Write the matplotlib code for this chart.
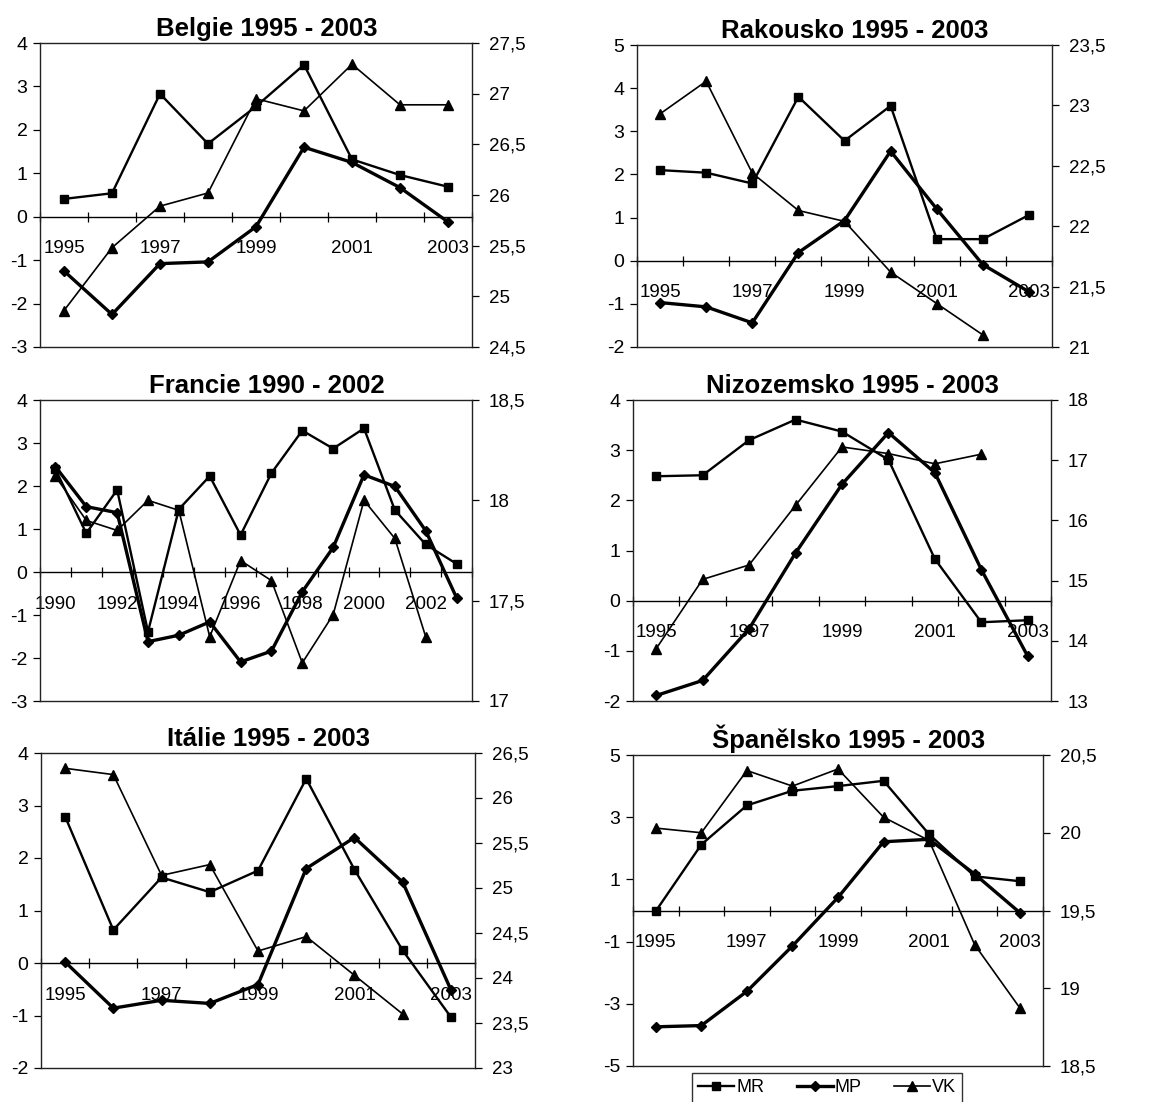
#! /usr/bin/env python3
"""MR, MP and VK for six countries, twin y axes per panel."""

import numpy as np
import matplotlib
matplotlib.use("Agg")
import matplotlib.pyplot as plt
from matplotlib.ticker import FixedLocator, FuncFormatter, MultipleLocator

plt.rcParams['font.family'] = ['Liberation Sans', 'DejaVu Sans']
plt.rcParams['axes.unicode_minus'] = False

# data (VK on the right axis)
be_years = list(range(1995, 2004))
be_mr = [0.41, 0.54, 2.83, 1.68, 2.54, 3.50, 1.32, 0.96, 0.69]
be_mp = [-1.25, -2.25, -1.08, -1.04, -0.23, 1.60, 1.25, 0.67, -0.12]
be_vk = [24.86, 25.48, 25.89, 26.02, 26.95, 26.83, 27.29, 26.89, 26.89]

at_years = list(range(1995, 2004))
at_mr = [2.10, 2.04, 1.79, 3.80, 2.78, 3.59, 0.50, 0.50, 1.06]
at_mp = [-0.97, -1.07, -1.44, 0.19, 0.93, 2.54, 1.20, -0.09, -0.72]
at_vk = [22.93, 23.20, 22.44, 22.13, 22.04, 21.62, 21.36, 21.10]

fr_years = list(range(1990, 2004))
fr_mr = [2.39, 0.90, 1.91, -1.39, 1.46, 2.23, 0.86, 2.30, 3.29, 2.87, 3.34, 1.44, 0.64, 0.19]
fr_mp = [2.45, 1.52, 1.38, -1.62, -1.47, -1.16, -2.09, -1.84, -0.46, 0.57, 2.26, 1.99, 0.96, -0.60]
fr_vk = [18.12, 17.90, 17.85, 18.00, 17.95, 17.32, 17.70, 17.60, 17.19, 17.43, 18.00, 17.81, 17.32]

nl_years = list(range(1995, 2004))
nl_mr = [2.48, 2.50, 3.20, 3.61, 3.37, 2.81, 0.83, -0.43, -0.39]
nl_mp = [-1.89, -1.59, -0.56, 0.95, 2.32, 3.35, 2.55, 0.62, -1.11]
nl_vk = [13.87, 15.02, 15.26, 16.25, 17.22, 17.11, 16.94, 17.10]

it_years = list(range(1995, 2004))
it_mr = [2.79, 0.63, 1.63, 1.35, 1.76, 3.51, 1.78, 0.24, -1.03]
it_mp = [0.02, -0.86, -0.71, -0.77, -0.41, 1.80, 2.39, 1.54, -0.51]
it_vk = [26.33, 26.26, 25.14, 25.26, 24.30, 24.46, 24.03, 23.60]

es_years = list(range(1995, 2004))
es_mr = [-0.02, 2.12, 3.38, 3.85, 4.00, 4.17, 2.45, 1.10, 0.94]
es_mp = [-3.74, -3.70, -2.60, -1.14, 0.42, 2.21, 2.29, 1.17, -0.08]
es_vk = [20.03, 20.00, 20.40, 20.30, 20.41, 20.10, 19.95, 19.28, 18.87]

panels = [
    ("Belgie 1995 - 2003", be_years, be_mr, be_mp, be_vk, (-3, 4, 1), (24.5, 27.5, 0.5)),
    ("Rakousko 1995 - 2003", at_years, at_mr, at_mp, at_vk, (-2, 5, 1), (21, 23.5, 0.5)),
    ("Francie 1990 - 2002", fr_years, fr_mr, fr_mp, fr_vk, (-3, 4, 1), (17, 18.5, 0.5)),
    ("Nizozemsko 1995 - 2003", nl_years, nl_mr, nl_mp, nl_vk, (-2, 4, 1), (13, 18, 1)),
    ("Itálie 1995 - 2003", it_years, it_mr, it_mp, it_vk, (-2, 4, 1), (23, 26.5, 0.5)),
    ("Španělsko 1995 - 2003", es_years, es_mr, es_mp, es_vk, (-5, 5, 2), (18.5, 20.5, 0.5)),
]

# plot area boxes in pixels: left, top, right, bottom
boxes = [
    (40, 43, 472, 347),
    (637, 45, 1052, 347),
    (40, 400, 472, 701),
    (633, 400, 1051, 701),
    (41, 753, 475, 1068),
    (633, 755, 1043, 1066),
]

W, H = 1171, 1102
fig = plt.figure(figsize=(W / 100, H / 100), dpi=100)


def comma(v, pos):
    return ("%g" % v).replace(".", ",")


handles = None
for (title, years, mr, mp, vk, lft, rgt), (x0, y0, x1, y1) in zip(panels, boxes):
    ax = fig.add_axes([x0 / W, 1 - y1 / H, (x1 - x0) / W, (y1 - y0) / H])
    ax2 = ax.twinx()
    n = len(years)
    x = np.arange(n)

    h1, = ax.plot(x, mr, color='black', lw=1.7, marker='s', ms=6, label='MR')
    h2, = ax.plot(x, mp, color='black', lw=2.4, marker='D', ms=5.5, label='MP')
    h3, = ax2.plot(x[:len(vk)], vk, color='black', lw=1.2, marker='^', ms=7, label='VK')
    handles = [h1, h2, h3]

    ax.set_xlim(-0.5, n - 0.5)
    ax.set_ylim(lft[0], lft[1])
    ax.yaxis.set_major_locator(FixedLocator(np.arange(lft[0], lft[1] + lft[2] / 2, lft[2])))
    ax2.set_ylim(rgt[0], rgt[1])
    ax2.yaxis.set_major_locator(MultipleLocator(rgt[2]))
    ax2.yaxis.set_major_formatter(FuncFormatter(comma))

    # category axis crossing at zero
    ax.spines['bottom'].set_position(('data', 0))
    ax.spines['bottom'].set_linewidth(1.0)
    for s in ('top', 'right', 'left'):
        ax.spines[s].set_visible(False)
    for s in ax2.spines.values():
        s.set_linewidth(1.0)
        s.set_color('#222222')
    ax.xaxis.set_major_locator(FixedLocator(x[::2]))
    ax.set_xticklabels([str(y) for y in years[::2]])
    ax.xaxis.set_minor_locator(FixedLocator(np.arange(n + 1) - 0.5))
    ax.tick_params(axis='x', which='major', length=0, pad=17, labelsize=13.5)
    ax.tick_params(axis='x', which='minor', direction='inout', length=7, width=0.9)
    ax.tick_params(axis='y', direction='out', length=5, width=0.9, pad=4, labelsize=14)
    ax2.tick_params(axis='y', direction='out', length=5, width=0.9, pad=7, labelsize=13.5)

    ax.set_title(title, fontsize=18.5, fontweight='bold', x=0.525, pad=5)

fig.legend(handles=handles, loc='upper center', bbox_to_anchor=(827 / W, 1 - 1073 / H),
           borderaxespad=0, ncol=3, fontsize=13, frameon=True, fancybox=False,
           edgecolor='black', handlelength=2.0, columnspacing=1.8, borderpad=0.35,
           handletextpad=0.1)

fig.savefig("out.png", dpi=100)
